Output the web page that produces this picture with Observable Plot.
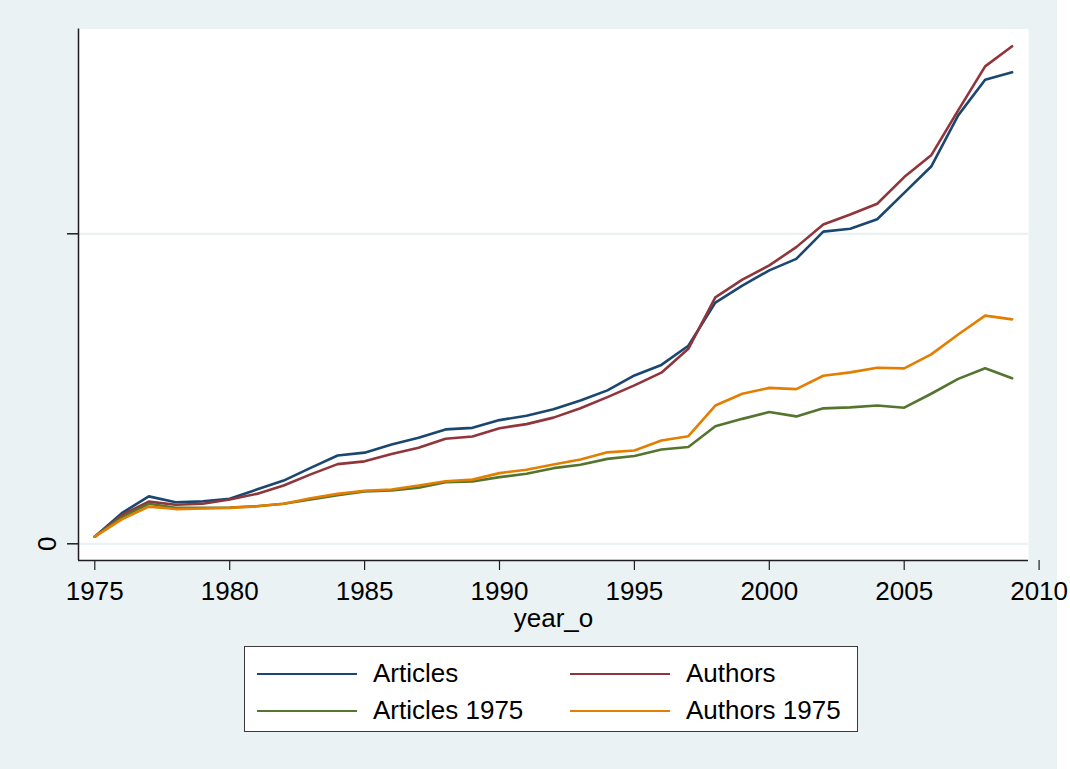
<!DOCTYPE html>
<html>
<head>
<meta charset="utf-8">
<script src="https://cdn.jsdelivr.net/npm/d3@7"></script>
<script src="https://cdn.jsdelivr.net/npm/@observablehq/plot@0.6"></script>
<style>
  body { margin: 0; background: #ffffff; }
  #fig { position: relative; width: 1057px; height: 769px; background: #EAF2F3; font-family: "Liberation Sans", Arial, sans-serif; }
  #legend { position: absolute; left: 244px; top: 646px; width: 612px; height: 84px; background: #fff; border: 1.5px solid #3a3a3a; }
  .sw { position: absolute; height: 2.4px; width: 100px; }
  .lt { position: absolute; font-size: 26px; line-height: 26px; color: #000; white-space: nowrap; }
</style>
</head>
<body>
<div id="fig"></div>
<script>
const years = [1975,1976,1977,1978,1979,1980,1981,1982,1983,1984,1985,1986,1987,1988,1989,1990,1991,1992,1993,1994,1995,1996,1997,1998,1999,2000,2001,2002,2003,2004,2005,2006,2007,2008,2009];
const articles = [2.3,9.9,15.3,13.4,13.7,14.5,17.5,20.4,24.5,28.5,29.4,32.0,34.2,36.9,37.4,39.9,41.3,43.4,46.2,49.5,54.3,57.7,63.9,77.8,83.3,88.2,91.9,100.7,101.6,104.7,113.2,121.7,138.2,149.7,152.1];
const authors = [2.3,9.3,13.6,12.6,12.9,14.3,16.1,18.8,22.4,25.7,26.6,29.0,31.0,33.9,34.6,37.3,38.6,40.7,43.7,47.3,51.1,55.2,62.9,79.5,85.2,89.8,95.7,103.0,106.2,109.7,118.3,125.3,139.8,154.0,160.5];
const articles1975 = [2.3,8.6,12.9,11.6,11.6,11.7,12.1,12.9,14.3,15.7,16.9,17.2,18.1,19.9,20.1,21.5,22.6,24.4,25.5,27.4,28.3,30.4,31.2,37.9,40.3,42.5,41.1,43.7,44.0,44.6,43.9,48.4,53.2,56.6,53.4];
const authors1975 = [2.3,7.9,12.0,11.2,11.4,11.6,12.1,12.9,14.7,16.1,17.1,17.5,18.8,20.2,20.7,22.8,23.9,25.6,27.2,29.5,30.1,33.3,34.7,44.6,48.4,50.3,49.9,54.2,55.3,56.8,56.6,61.1,67.5,73.6,72.4];
const seriesNames = ["Articles","Authors","Articles 1975","Authors 1975"];
const seriesColors = ["#1a476f","#90353b","#55752f","#e37e00"];
const xTicks = [1975,1980,1985,1990,1995,2000,2005,2010];
const yTicks = [0,100];
const yTickLabels = ["0",""];
const xLabel = "year_o";

const seriesValues = [articles, authors, articles1975, authors1975];
const data = [];
seriesNames.forEach((name, s) => years.forEach((yr, i) => data.push({year: yr, value: seriesValues[s][i], series: name})));

const xDomain = [1974.396, 2009.607];
const yDomain = [-5.387, 166.06];
const font = "Liberation Sans, Arial, sans-serif";

const chart = Plot.plot({
  width: 1057,
  height: 640,
  marginLeft: 78,
  marginRight: 29,
  marginTop: 28.5,
  marginBottom: 80,
  style: {fontFamily: font, fontSize: "26px", background: "transparent", color: "#000", overflow: "visible"},
  x: {domain: xDomain},
  y: {domain: yDomain},
  color: {domain: seriesNames, range: seriesColors},
  marks: [
    Plot.frame({fill: "#ffffff", stroke: null}),
    Plot.ruleY(yTicks, {stroke: "#EAF2F3", strokeWidth: 2.2}),
    Plot.line(data, {x: "year", y: "value", z: "series", stroke: "series", strokeWidth: 2.6, strokeLinejoin: "miter"}),
    Plot.ruleX([xDomain[0]], {stroke: "#1f1f1f", strokeWidth: 1.5}),
    Plot.ruleY([yDomain[0]], {stroke: "#1f1f1f", strokeWidth: 1.5}),
    Plot.axisX({ticks: xTicks, tickSize: 10, tickPadding: 11, tickFormat: d => String(d), fontSize: 26, fontFamily: font, label: null, stroke: "#1f1f1f", strokeWidth: 1.2}),
    Plot.axisY({ticks: yTicks, tickSize: 11, tickFormat: () => "", label: null, stroke: "#1f1f1f", strokeWidth: 1.5}),
    Plot.text(yTicks, {x: () => xDomain[0], y: d => d, text: (d, i) => yTickLabels[i], rotate: -90, dx: -31, fontSize: 26, fontFamily: font, fill: "#000"}),
    Plot.text([xLabel], {frameAnchor: "bottom", dy: 66, text: d => d, fontSize: 26, fontFamily: font, fill: "#000"})
  ]
});
const fig = document.getElementById("fig");
fig.appendChild(chart);

// Legend
const legend = document.createElement("div");
legend.id = "legend";
const pos = [[0,0],[1,0],[0,1],[1,1]];
seriesNames.forEach((name, i) => {
  const [c, r] = pos[i];
  const sw = document.createElement("div");
  sw.className = "sw";
  sw.style.background = seriesColors[i];
  sw.style.left = (12 + c * 313) + "px";
  sw.style.top = (26 + r * 37) + "px";
  legend.appendChild(sw);
  const t = document.createElement("div");
  t.className = "lt";
  t.textContent = name;
  t.style.left = (128 + c * 313) + "px";
  t.style.top = (13 + r * 37) + "px";
  legend.appendChild(t);
});
fig.appendChild(legend);
</script>
</body>
</html>
